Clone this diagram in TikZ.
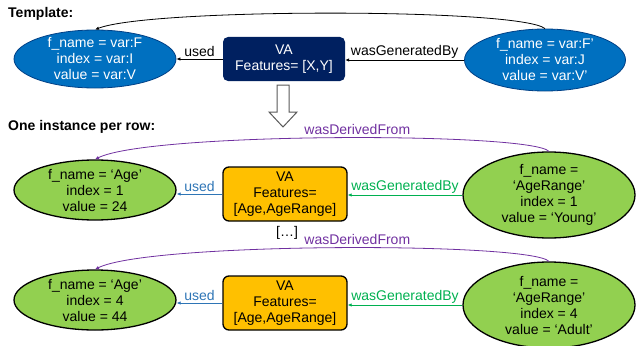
\documentclass[tikz,border=0pt]{standalone}
\usepackage{fontspec}
\setmainfont{Liberation Sans}
\usetikzlibrary{arrows.meta,shapes.geometric}
\definecolor{tplblue}{HTML}{0070C0}
\definecolor{tplnavy}{HTML}{002060}
\definecolor{rowgreen}{HTML}{92D050}
\definecolor{roworange}{HTML}{FFC000}
\definecolor{usedblue}{HTML}{2E75B6}
\definecolor{gengreen}{HTML}{00B050}
\definecolor{derpurple}{HTML}{7030A0}
\tikzset{
  txt/.style={font=\fontsize{14}{16}\selectfont, align=center},
  title/.style={font=\fontsize{14}{16}\selectfont\bfseries, anchor=west, inner sep=0pt},
  tplell/.style={ellipse, draw=tplnavy!60!tplblue, line width=0.8pt, fill=tplblue, inner sep=0pt},
  rowell/.style={ellipse, draw=black, line width=1.3pt, fill=rowgreen, inner sep=0pt},
  tpltext/.style={txt, text=white},
  tplbox/.style={txt, rectangle, rounded corners=5pt, fill=tplnavy, text=white, inner sep=0pt, minimum width=122pt, minimum height=44pt},
  rowbox/.style={txt, rectangle, rounded corners=6pt, draw=black, line width=1.3pt, fill=roworange, inner sep=0pt, minimum width=124pt, minimum height=54pt},
  rel/.style={-{Latex[length=4pt,width=3.5pt]}, line width=0.8pt},
  rellabel/.style={txt, above, inner sep=1.5pt},
}
\begin{document}
\begin{tikzpicture}[x=1pt,y=-1pt]
\useasboundingbox (0,0) rectangle (636,345);

\node[title] (tplTitle) at (8,14) {Template:};
\node[tplell, minimum width=162pt, minimum height=58pt,
  label={[tpltext]center:{f\_name = var:F\\index = var:I\\value = var:V}}] (tplIn) at (95,59) {};
\node[tplbox] (tplVA) at (284,59) {VA\\Features= [X,Y]};
\node[tplell, minimum width=161pt, minimum height=62pt,
  label={[tpltext]center:{f\_name = var:F’\\index = var:J\\value = var:V’}}] (tplOut) at (545,60) {};

\draw[rel] (tplVA.west) -- (tplIn.east) node[rellabel, midway] {used};
\draw[rel] (tplOut.west) -- (tplOut.west -| tplVA.east) node[rellabel, midway] {wasGeneratedBy};
\draw[rel] (tplOut.north) .. controls (520,8) and (150,8) .. (tplIn.north);

\draw[line width=1pt, draw=black!65, fill=white] (277,85) -- (289,85) -- (289,112) -- (297,112) -- (283,127) -- (269,112) -- (277,112) -- cycle;

\node[title] (rowTitle) at (8,127) {One instance per row:};

\node[rowell, minimum width=162pt, minimum height=60pt,
  label={[txt]center:{f\_name = ‘Age’\\index = 1\\value = 24}}] (in1) at (95,190) {};
\node[rowbox] (va1) at (285,194) {VA\\Features=\\{[Age,AgeRange]}};
\node[rowell, minimum width=172pt, minimum height=86pt,
  label={[txt]center:{f\_name =\\‘AgeRange’\\index = 1\\value = ‘Young’}}] (out1) at (549,195) {};

\draw[rel, usedblue] (va1.west) -- (va1.west -| in1.east) node[rellabel, midway] {used};
\draw[rel, gengreen] (out1.west) -- (out1.west -| va1.east) node[rellabel, midway] {wasGeneratedBy};
\draw[rel, derpurple] (out1.north) .. controls (530,132) and (150,132) .. (in1.north)
  node[rellabel, pos=0.465, inner sep=3pt] {wasDerivedFrom};

\node[txt] (gap) at (287,233) {[…]};

\node[rowell, minimum width=162pt, minimum height=60pt,
  label={[txt]center:{f\_name = ‘Age’\\index = 4\\value = 44}}] (in2) at (95,300) {};
\node[rowbox] (va2) at (285,303) {VA\\Features=\\{[Age,AgeRange]}};
\node[rowell, minimum width=172pt, minimum height=86pt,
  label={[txt]center:{f\_name =\\‘AgeRange’\\index = 4\\value = ‘Adult’}}] (out2) at (549,305) {};

\draw[rel, usedblue] (va2.west) -- (va2.west -| in2.east) node[rellabel, midway] {used};
\draw[rel, gengreen] (out2.west) -- (out2.west -| va2.east) node[rellabel, midway] {wasGeneratedBy};
\draw[rel, derpurple] (out2.north) .. controls (530,242) and (150,242) .. (in2.north)
  node[rellabel, pos=0.465, inner sep=3pt] {wasDerivedFrom};
\end{tikzpicture}
\end{document}
